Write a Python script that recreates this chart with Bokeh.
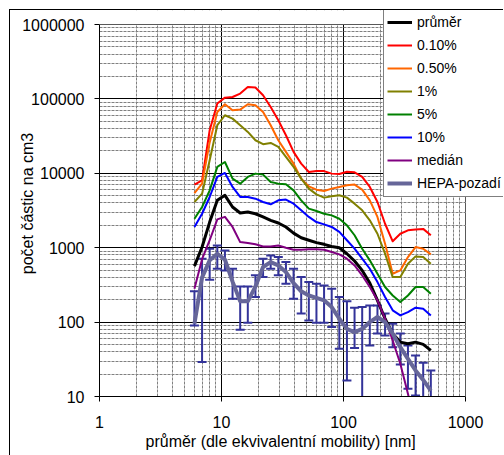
from bokeh.plotting import figure
from bokeh.models import (FixedTicker, PrintfTickFormatter, Whisker, ColumnDataSource,
                          TeeHead, Legend, LegendItem, BoxAnnotation, Title)
from bokeh.embed import file_html
from bokeh.resources import INLINE

# ---- data ----
diam = [6.00, 6.93, 8.00, 9.24, 10.67, 12.32, 14.23, 16.43, 18.97, 21.91, 25.30, 29.22,
        33.74, 38.97, 45.00, 51.97, 60.01, 69.30, 80.03, 92.42, 106.7, 123.2, 142.3, 164.3,
        189.8, 219.1, 253.1, 292.2, 337.5, 389.7, 450.0, 519.7]

prumer = [566, 1020, 2210, 4330, 5060, 3520, 2930, 3020, 2860, 2590, 2330, 2150,
          1900, 1570, 1360, 1260, 1170, 1110, 1040, 1000, 830, 662, 495, 335,
          196, 111, 69.7, 53.8, 51.1, 53.8, 50.1, 41.6]
p_010 = [7050, 8050, 38000, 86500, 104000, 106000, 118000, 145000, 142000, 112000, 78000, 51600,
         32500, 19400, 13500, 10400, 10700, 10700, 9900, 9800, 10500, 10300, 8930, 6550,
         4110, 2100, 1220, 1540, 1710, 1750, 1790, 1470]
p_050 = [5430, 7260, 26000, 66800, 84700, 70400, 71900, 84700, 82200, 66800, 44300, 27800,
         19400, 13500, 8480, 6680, 6030, 5780, 6220, 6550, 6900, 7050, 6030, 4330,
         2590, 1130, 447, 495, 748, 1020, 970, 813]
p_1 = [4110, 5320, 15000, 44300, 60300, 54300, 44300, 36000, 27800, 24600, 25600, 22600,
       16600, 12200, 8480, 6220, 5210, 4710, 4910, 5060, 4710, 3910, 3180, 2330,
       1540, 830, 403, 403, 609, 764, 748, 609]
p_5 = [2450, 3520, 5900, 12200, 14200, 8480, 7260, 8930, 9900, 9600, 7640, 7260,
       7110, 5900, 4330, 3350, 3110, 2860, 2720, 2450, 2000, 1470, 970, 676,
       447, 296, 228, 186, 228, 296, 296, 240]
p_10 = [1900, 2860, 4800, 8930, 10100, 6550, 4810, 4810, 4560, 4110, 3830, 4330,
        4430, 3910, 3180, 2590, 2210, 2060, 1900, 1630, 1260, 970, 711, 521,
        345, 217, 144, 123, 136, 156, 151, 123]
median = [280, 700, 1260, 2400, 2600, 1900, 1190, 1160, 1110, 1040, 1040, 1070,
          1000, 940, 940, 950, 950, 940, 875, 813, 711, 578, 425, 296,
          196, 111, 56.6, 27.5, 10.9, 4, 2, 1]
hepa = [95, 400, 676, 830, 690, 350, 190, 190, 300, 550, 641, 578,
        471, 335, 259, 228, 212, 196, 159, 111, 81, 73, 81, 100,
        117, 100, 70, 46, 32, 22.4, 16.7, 12]
hepa_hi = [259, 711, 970, 1070, 920, 521, 302, 302, 425, 711, 788, 748,
           641, 521, 403, 345, 328, 311, 281, 217, 190, 156, 160, 167,
           167, 130, 95, 70, 48.5, 35.6, 28.5, 22.4]
hepa_lo = [90, 29, 371, 521, 495, 206, 79, 98, 217, 403, 521, 425,
           328, 206, 130, 105, 98, 98, 86, 44, 16.4, 45, 1, 48.5,
           70, 66, 46, 27, 12.7, 10.3, 9.5, 5]

series_names = ["průměr", "0.10%", "0.50%", "1%", "5%", "10%", "medián", "HEPA-pozadí"]
series_values = [prumer, p_010, p_050, p_1, p_5, p_10, median, hepa]
series_colors = ["#000000", "#FF0000", "#FF6600", "#808000", "#008000", "#0000FF", "#800080", "#666699"]
series_widths = [3, 2, 2, 2, 2, 2, 2, 4]

x_ticks = [1, 10, 100, 1000]
y_ticks = [10, 100, 1000, 10000, 100000, 1000000]
x_minor = [m * 10 ** e for e in range(0, 3) for m in range(2, 10)]
y_minor = [m * 10 ** e for e in range(1, 6) for m in range(2, 10)]

FONT = "Liberation Sans"

# plot area: 366 px for 3 decades in x, 372 px for 5 decades in y;
# the frame is extended 38 px right and 14 px up so the legend can overhang it
X_LO, X_HI = 1, 1000
Y_LO, Y_HI = 10, 1000000
x_end = 10 ** (3 + 38 / 122.0)
y_end = 10 ** (6 + 14 / 74.4)

p = figure(x_axis_type="log", y_axis_type="log", x_range=(X_LO, x_end), y_range=(Y_LO, y_end),
           frame_width=404, frame_height=386,
           min_border_left=89, min_border_right=0, min_border_top=0, min_border_bottom=59,
           output_backend="svg", toolbar_location=None)
p.margin = (9, 0, 0, 9)
p.styles = {"border-left": "1px solid black", "border-top": "1px solid black"}
p.background_fill_color = "white"
p.border_fill_color = "white"
p.outline_line_color = None

for ax, ticks, minor in ((p.xaxis, x_ticks, x_minor), (p.yaxis, y_ticks, y_minor)):
    ax.ticker = FixedTicker(ticks=ticks, minor_ticks=minor)
    ax.formatter = PrintfTickFormatter(format="%d")
    ax.major_label_text_font = FONT
    ax.major_label_text_font_size = "16px"
    ax.major_label_text_color = "black"
    ax.axis_label_text_font = FONT
    ax.axis_label_text_font_size = "16px"
    ax.axis_label_text_font_style = "normal"
    ax.axis_label_text_color = "black"
    ax.axis_line_color = "black"
    ax.major_tick_line_color = "black"
    ax.major_tick_out = 5
    ax.major_tick_in = 0
    ax.minor_tick_line_color = None

p.xaxis.bounds = (X_LO, X_HI)
p.yaxis.bounds = (Y_LO, Y_HI)
p.yaxis.axis_label = "počet částic na cm3"
p.xaxis.major_label_standoff = 14
p.yaxis.major_label_standoff = 10
p.yaxis.axis_label_standoff = -17

xlabel = Title(text="průměr (dle ekvivalentní mobility) [nm]", align="left", offset=46,
               vertical_align="top", standoff=4,
               text_font=FONT, text_font_size="16px", text_font_style="normal", text_color="black")
p.add_layout(xlabel, "below")

for g in (p.xgrid, p.ygrid):
    g.grid_line_color = "black"
    g.grid_line_width = 1
    g.minor_grid_line_color = "#808080"
    g.minor_grid_line_width = 1
    g.minor_grid_line_dash = "3 1"

items = []
for name, vals, col, lw in zip(series_names, series_values, series_colors, series_widths):
    r = p.line(diam, vals, line_color=col, line_width=lw, line_join="round")
    items.append(LegendItem(label=name, renderers=[r]))

src = ColumnDataSource(dict(x=diam, lo=hepa_lo, hi=hepa_hi))
w = Whisker(base="x", lower="lo", upper="hi", source=src, line_color="#333399", line_width=2,
            upper_head=TeeHead(size=9, line_color="#333399", line_width=2),
            lower_head=TeeHead(size=9, line_color="#333399", line_width=2))
p.add_layout(w)

# blank the strips outside the real plot area, then draw its border
p.add_layout(BoxAnnotation(left=X_HI, right=x_end, bottom=Y_LO, top=y_end,
                           fill_color="white", fill_alpha=1, line_color=None))
p.add_layout(BoxAnnotation(left=X_LO, right=x_end, bottom=Y_HI, top=y_end,
                           fill_color="white", fill_alpha=1, line_color=None))
p.add_layout(BoxAnnotation(left=X_LO, right=X_HI, bottom=Y_LO, top=Y_HI,
                           fill_alpha=0, line_color="black", line_width=1))

leg = Legend(items=items, location=(284, 199))
leg.label_text_font = FONT
leg.label_text_font_size = "14px"
leg.label_text_color = "black"
leg.glyph_width = 25
leg.glyph_height = 20
leg.label_height = 20
leg.spacing = 3
leg.label_standoff = 5
leg.padding = 3
leg.margin = 0
leg.border_line_color = "black"
leg.border_line_width = 1
leg.background_fill_color = "white"
leg.background_fill_alpha = 1
p.add_layout(leg, "center")

open("out.html", "w").write(file_html(p, INLINE))
